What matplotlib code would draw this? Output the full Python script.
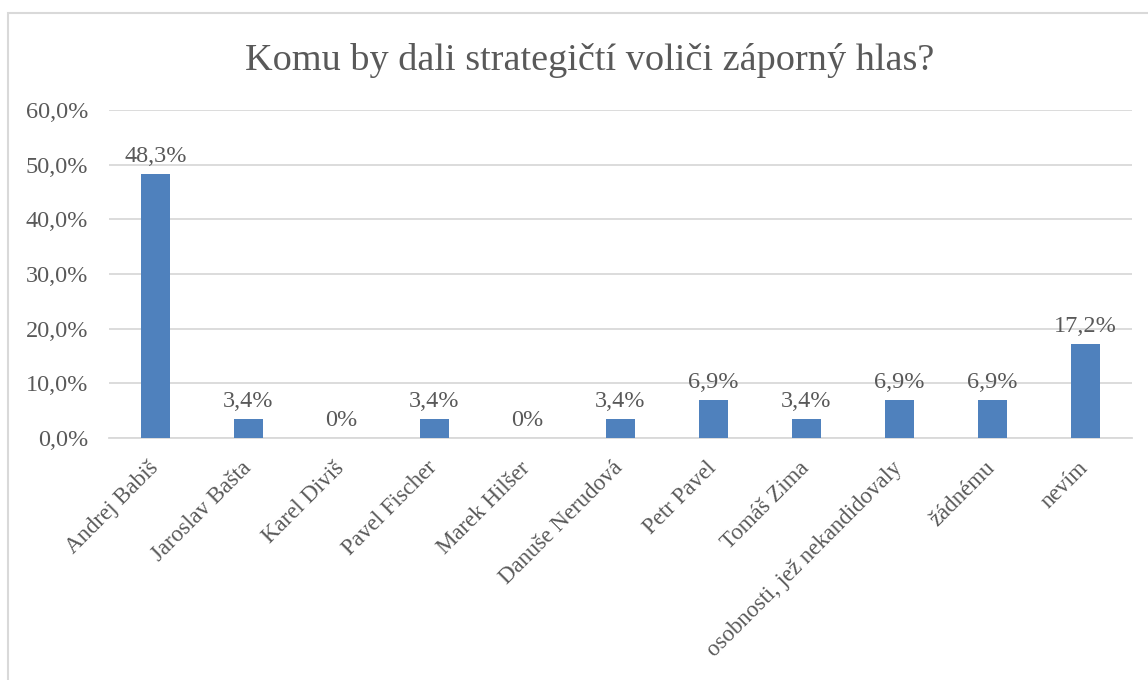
import matplotlib
matplotlib.use("Agg")
import matplotlib.pyplot as plt
from matplotlib.patches import Rectangle
import matplotlib.transforms as mtrans
import numpy as np

categories = ["Andrej Babiš", "Jaroslav Bašta", "Karel Diviš", "Pavel Fischer",
              "Marek Hilšer", "Danuše Nerudová", "Petr Pavel", "Tomáš Zima",
              "osobnosti, jež nekandidovaly", "žádnému", "nevím"]
values = [48.3, 3.4, 0.0, 3.4, 0.0, 3.4, 6.9, 3.4, 6.9, 6.9, 17.2]
yticks = [0, 10, 20, 30, 40, 50, 60]
title = "Komu by dali strategičtí voliči záporný hlas?"

plt.rcParams['font.family'] = ['Liberation Serif', 'DejaVu Serif']
txt = "#595959"
W, H = 1148, 680
fig = plt.figure(figsize=(W/100, H/100), dpi=100)
fig.patches.append(Rectangle((8/W, -0.1), 1.2, 1.1 - 13/H, transform=fig.transFigure,
                             fill=False, edgecolor="#D9D9D9", linewidth=1.5))
ax = fig.add_axes([109/W, 1-438/H, (1132-109)/W, (438-110)/H])
x = np.arange(len(categories))
ax.bar(x, values, width=0.31, color="#4F81BD", zorder=3)
ax.set_xlim(-0.5, len(categories)-0.5)
ax.set_ylim(0, 60)
ax.set_yticks(yticks)
ax.set_yticklabels([f"{v:.1f}".replace(".", ",") + "%" for v in yticks], fontsize=17.5, color=txt)
ax.yaxis.grid(True, color="#D9D9D9", linewidth=1.3, zorder=0)
ax.tick_params(axis='both', length=0)
ax.tick_params(axis='y', pad=15)
for s in ["top", "right", "left"]:
    ax.spines[s].set_visible(False)
ax.spines["bottom"].set_color("#D9D9D9")
ax.spines["bottom"].set_linewidth(1.3)
ax.set_xticks(x)
ax.set_xticklabels(categories, rotation=45, ha="right", va="top",
                   rotation_mode="anchor", fontsize=16.5, color=txt)
ax.tick_params(axis='x', pad=14)
shift = mtrans.ScaledTranslation(-8/100, 0, fig.dpi_scale_trans)
for lbl in ax.get_xticklabels():
    lbl.set_transform(lbl.get_transform() + shift)
for xi, v in zip(x, values):
    lab = "0%" if v == 0 else f"{v:.1f}".replace(".", ",") + "%"
    ax.annotate(lab, (xi, v), xytext=(0, 5), textcoords="offset points",
                ha="center", va="bottom", fontsize=17.5, color=txt)
fig.text(590/W, 1-60/H, title, ha="center", va="center", fontsize=27.5, color=txt)
fig.savefig("out.png", dpi=100)
